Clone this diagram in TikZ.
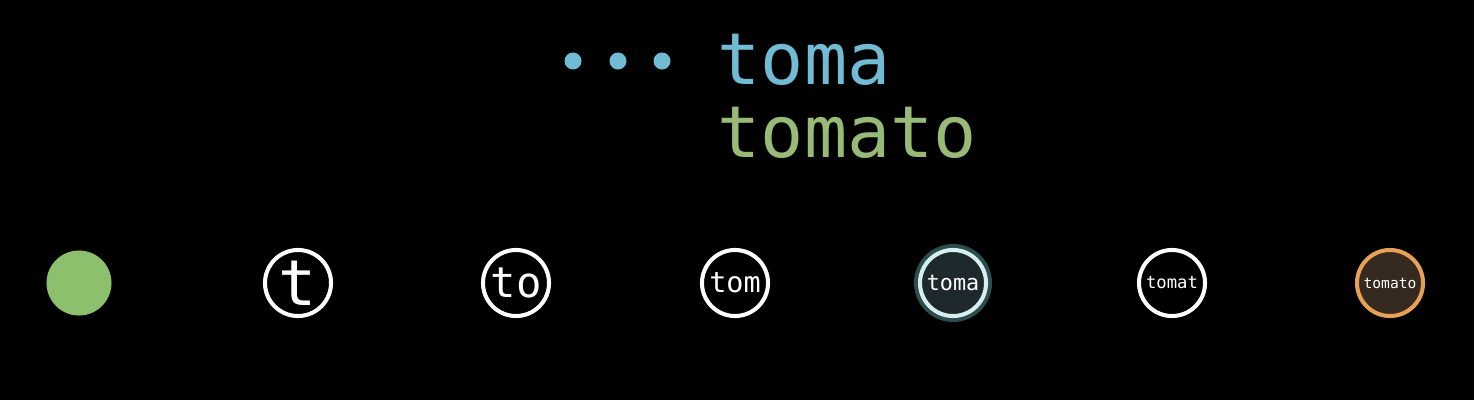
\documentclass[tikz,border=0pt]{standalone}
\usepackage{fontspec}
\setmonofont{DejaVu Sans Mono}
\usetikzlibrary{positioning}
\definecolor{wordblue}{HTML}{72BBD4}
\definecolor{wordgreen}{HTML}{98BA76}
\definecolor{leafgreen}{HTML}{8DC06C}
\definecolor{glowteal}{HTML}{3E6E70}
\definecolor{ringcyan}{HTML}{D6EEEE}
\definecolor{slate}{HTML}{1E292E}
\definecolor{rust}{HTML}{E6A157}
\definecolor{bark}{HTML}{36291F}
\tikzset{
  word/.style={font=\ttfamily\fontsize{20.4}{22}\selectfont, anchor=base west, inner sep=0pt},
  dotnode/.style={circle, fill=wordblue, minimum size=0.17cm, inner sep=0pt},
  trie/.style={circle, draw=white, line width=1.15pt, minimum size=0.66cm, inner sep=0pt, text=white},
}
\begin{document}
\begin{tikzpicture}[x=0.01cm,y=-0.01cm]
\fill[black] (0,0) rectangle (1474,400);
\useasboundingbox (0,0) rectangle (1474,400);
% what has been typed so far
\node[dotnode] (d1) at (573,61) {};
\node[dotnode] (d2) at (618,61) {};
\node[dotnode] (d3) at (662,61) {};
\node[word, text=wordblue] (toma) at (717,84) {toma};
\node[word, text=wordgreen] (tomato) at (717,157) {tomato};
% one circle per prefix
\node[circle, fill=leafgreen, minimum size=0.65cm, inner sep=0pt] (c0) at (79,283) {};
\foreach \x/\n/\s/\w in {298/c1/18/t, 516/c2/12/to, 735/c3/8.1/tom, 1172/c5/4.9/tomat}
  \node[trie, font=\ttfamily\fontsize{\s}{\s}\selectfont] (\n) at (\x,283) {\w};
\fill[glowteal, opacity=.7] (953,283) circle (39);
\node[trie, draw=ringcyan, fill=slate, font=\ttfamily\fontsize{6.2}{7}\selectfont] (c4) at (953,283) {toma};
\node[trie, draw=rust, fill=bark, font=\ttfamily\fontsize{4.15}{5}\selectfont] (c6) at (1390,283) {tomato};
\end{tikzpicture}
\end{document}
